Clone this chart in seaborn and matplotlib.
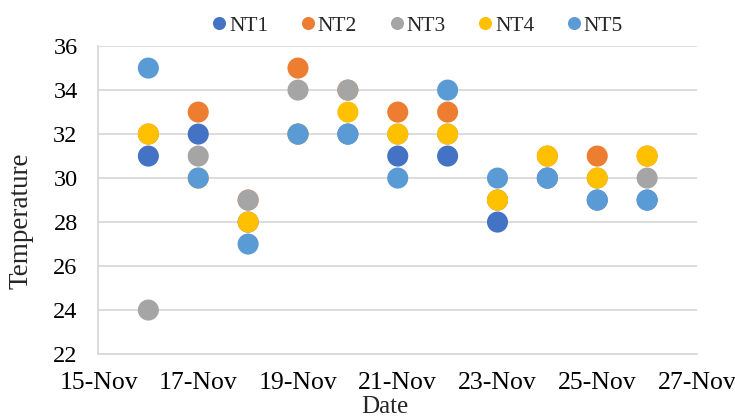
import matplotlib
matplotlib.use("Agg")
import matplotlib.pyplot as plt
import matplotlib.dates as mdates
from matplotlib.lines import Line2D
import numpy as np
import pandas as pd
import seaborn as sns

# Daily temperature readings per node
dates = ["2020-11-16", "2020-11-17", "2020-11-18", "2020-11-19", "2020-11-20", "2020-11-21",
         "2020-11-22", "2020-11-23", "2020-11-24", "2020-11-25", "2020-11-26"]
nt1 = [31, 32, 28, 32, 32, 31, 31, 28, 30, 29, 29]
nt2 = [32, 33, 29, 35, 34, 33, 33, 29, 31, 31, 31]
nt3 = [24, 31, 29, 34, 34, 32, 32, 29, 30, 30, 30]
nt4 = [32, 30, 28, 32, 33, 32, 32, 29, 31, 30, 31]
nt5 = [35, 30, 27, 32, 32, 30, 34, 30, 30, 29, 29]

series_names = ["NT1", "NT2", "NT3", "NT4", "NT5"]
colors = ["#4472C4", "#ED7D31", "#A5A5A5", "#FFC000", "#5B9BD5"]
tick_labels = ["15-Nov", "17-Nov", "19-Nov", "21-Nov", "23-Nov", "25-Nov", "27-Nov"]

frames = []
for name, vals in zip(series_names, [nt1, nt2, nt3, nt4, nt5]):
    frames.append(pd.DataFrame({"Date": pd.to_datetime(dates), "Temperature": vals, "Series": name}))
df = pd.concat(frames, ignore_index=True)
df["x"] = mdates.date2num(df["Date"])

sns.set_style("white")
plt.rcParams["font.family"] = ["Liberation Serif", "DejaVu Serif"]

fig = plt.figure(figsize=(7.35, 4.19), dpi=100)
ax = fig.add_axes([0.134, 0.155, 0.8143, 0.735])

sns.scatterplot(data=df, x="x", y="Temperature", hue="Series", hue_order=series_names,
                palette=colors, s=230, linewidth=0, edgecolor="none", alpha=1.0,
                legend=False, ax=ax, zorder=3)

x0 = mdates.date2num(pd.Timestamp("2020-11-15"))
x1 = mdates.date2num(pd.Timestamp("2020-11-27"))
ax.set_xlim(x0, x1)
ax.set_xticks(np.arange(x0, x1 + 0.5, 2))
ax.set_xticklabels(tick_labels)
ax.set_ylim(22, 36)
ax.set_yticks(np.arange(22, 37, 2))

ax.grid(axis="y", color="#D9D9D9", linewidth=1.3)
ax.grid(axis="x", visible=False)
for side in ["top", "right"]:
    ax.spines[side].set_visible(False)
for side in ["left", "bottom"]:
    ax.spines[side].set_color("#D9D9D9")
    ax.spines[side].set_linewidth(1.3)

ax.tick_params(axis="both", length=0, colors="#000000")
ax.tick_params(axis="x", pad=13, labelsize=18.5)
ax.tick_params(axis="y", pad=15, labelsize=17.5)

ax.set_xlabel("Date", fontsize=18)
ax.xaxis.set_label_coords(0.479, -0.136)
ax.set_ylabel("Temperature", fontsize=19.5)
ax.yaxis.label.set_va("center")
ax.yaxis.set_label_coords(-0.129, 0.432)

handles = [Line2D([], [], marker="o", linestyle="", markersize=9.4, markerfacecolor=c,
                  markeredgewidth=0) for c in colors]
fig.legend(handles, series_names, loc="center", bbox_to_anchor=(0.568, 0.938), ncol=5,
           frameon=False, fontsize=15.5, handletextpad=0.1, columnspacing=1.5,
           handlelength=0.7, borderpad=0, borderaxespad=0)

fig.savefig("out.png", dpi=100, facecolor="white")
